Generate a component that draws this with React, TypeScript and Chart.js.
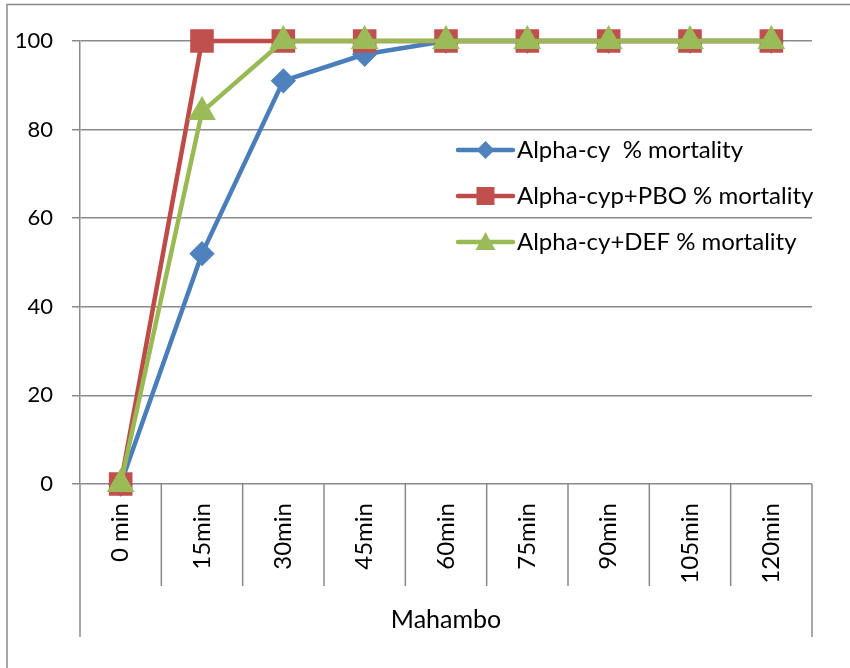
import React, { useEffect, useRef } from "react";
import { Chart, registerables } from "chart.js";

Chart.register(...registerables);

const categories = ["0 min", "15min", "30min", "45min", "60min", "75min", "90min", "105min", "120min"];
const groupLabel = "Mahambo";
const seriesLabels = ["Alpha-cy  % mortality", "Alpha-cyp+PBO % mortality", "Alpha-cy+DEF % mortality"];
const alphaCy = [0, 52, 91, 97, 100, 100, 100, 100, 100];
const alphaCypPbo = [0, 100, 100, 100, 100, 100, 100, 100, 100];
const alphaCyDef = [0, 84, 100, 100, 100, 100, 100, 100, 100];
const yMin = 0;
const yMax = 100;
const yStep = 20;

const FONT = "Lato, 'Open Sans', sans-serif";
const GRID = "#8a8a8a";

const decorPlugin = {
  id: "excelDecor",
  beforeDraw(chart: any) {
    const ctx = chart.ctx;
    ctx.save();
    ctx.fillStyle = "#ffffff";
    ctx.fillRect(0, 0, chart.width, chart.height);
    ctx.strokeStyle = GRID;
    ctx.lineWidth = 1.5;
    ctx.beginPath();
    ctx.moveTo(7, chart.height);
    ctx.lineTo(7, 4.5);
    ctx.lineTo(chart.width, 4.5);
    ctx.stroke();
    ctx.restore();
  },
  afterDraw(chart: any) {
    const ctx = chart.ctx;
    const x = chart.scales.x;
    const area = chart.chartArea;
    const n = categories.length;
    ctx.save();
    ctx.strokeStyle = GRID;
    ctx.lineWidth = 1.5;
    for (let i = 0; i <= n; i++) {
      const px = x.getPixelForValue(i - 0.5);
      const len = i === 0 || i === n ? 153 : 102;
      ctx.beginPath();
      ctx.moveTo(px, area.bottom);
      ctx.lineTo(px, area.bottom + len);
      ctx.stroke();
    }
    // group label
    ctx.fillStyle = "#000000";
    ctx.font = `25px ${FONT}`;
    ctx.textAlign = "center";
    ctx.textBaseline = "middle";
    ctx.fillText(groupLabel, (area.left + area.right) / 2, area.bottom + 136);

    // legend
    const lx0 = 458;
    const lx1 = 513;
    const ys = [150, 196, 242];
    chart.data.datasets.forEach((ds: any, i: number) => {
      const y = ys[i];
      ctx.strokeStyle = ds.borderColor;
      ctx.lineWidth = ds.borderWidth;
      ctx.lineCap = "round";
      ctx.beginPath();
      ctx.moveTo(lx0, y);
      ctx.lineTo(lx1, y);
      ctx.stroke();
      ctx.lineCap = "butt";
      const style = ds.pointStyle;
      ctx.fillStyle = ds.pointBackgroundColor;
      const cx = (lx0 + lx1) / 2;
      ctx.beginPath();
      if (style === "rect") {
        ctx.rect(cx - 9, y - 9, 18, 18);
      } else if (style === "rectRot") {
        ctx.moveTo(cx, y - 9);
        ctx.lineTo(cx + 9, y);
        ctx.lineTo(cx, y + 9);
        ctx.lineTo(cx - 9, y);
        ctx.closePath();
      } else {
        ctx.moveTo(cx, y - 10);
        ctx.lineTo(cx + 10, y + 8);
        ctx.lineTo(cx - 10, y + 8);
        ctx.closePath();
      }
      ctx.fill();
      ctx.fillStyle = "#000000";
      ctx.font = `24px ${FONT}`;
      ctx.textAlign = "left";
      ctx.textBaseline = "middle";
      ctx.fillText(ds.label, lx1 + 4, y);
    });
    ctx.restore();
  },
};

export default function App() {
  const ref = useRef<HTMLCanvasElement | null>(null);
  useEffect(() => {
    document.body.style.margin = "0";
    const canvas = ref.current;
    if (!canvas) return;
    const chart = new Chart(canvas, {
      type: "line",
      data: {
        labels: categories,
        datasets: [
          {
            label: seriesLabels[0],
            data: alphaCy,
            borderColor: "#4A7EBB",
            backgroundColor: "#4F81BD",
            pointBackgroundColor: "#4F81BD",
            pointBorderColor: "#4F81BD",
            pointStyle: "rectRot",
            pointRadius: 9.5,
            borderWidth: 4.5,
            order: 3,
            clip: false as any,
          },
          {
            label: seriesLabels[1],
            data: alphaCypPbo,
            borderColor: "#BE4B48",
            backgroundColor: "#C0504D",
            pointBackgroundColor: "#C0504D",
            pointBorderColor: "#C0504D",
            pointStyle: "rect",
            pointRadius: 13.5,
            borderWidth: 4.5,
            order: 2,
            clip: false as any,
          },
          {
            label: seriesLabels[2],
            data: alphaCyDef,
            borderColor: "#98B954",
            backgroundColor: "#9BBB59",
            pointBackgroundColor: "#9BBB59",
            pointBorderColor: "#9BBB59",
            pointStyle: "triangle",
            pointRadius: 11.5,
            borderWidth: 4.5,
            order: 1,
            clip: false as any,
          },
        ],
      },
      options: {
        animation: false,
        responsive: false,
        devicePixelRatio: 1,
        layout: { padding: { left: 0, top: 41, right: 38, bottom: 0 } },
        plugins: {
          legend: { display: false },
          tooltip: { enabled: false },
        },
        scales: {
          x: {
            type: "category",
            offset: true,
            grid: { display: false, drawTicks: false },
            border: { display: false },
            ticks: {
              autoSkip: false,
              minRotation: 90,
              maxRotation: 90,
              padding: 19,
              color: "#000000",
              font: { family: FONT, size: 24 },
            },
            afterFit: (s: any) => {
              s.height = 668 - 484;
            },
          },
          y: {
            min: yMin,
            max: yMax,
            grid: { color: GRID, lineWidth: 1.5, tickLength: 8, drawTicks: true },
            border: { display: true, color: GRID, width: 1.5 },
            ticks: {
              stepSize: yStep,
              padding: 19,
              color: "#000000",
              font: { family: FONT, size: 22 },
            },
            afterFit: (s: any) => {
              s.width = 80;
            },
          },
        },
      },
      plugins: [decorPlugin],
    });
    return () => chart.destroy();
  }, []);
  return <canvas ref={ref} width={850} height={668} style={{ display: "block" }} />;
}
